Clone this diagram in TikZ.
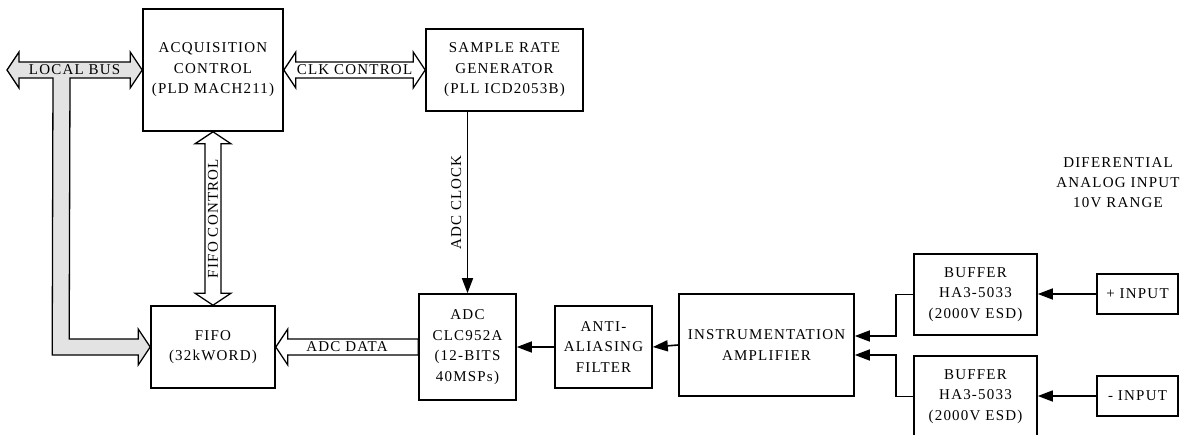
\documentclass[tikz,border=0pt]{standalone}
\usepackage{fontspec}
\setmainfont{Liberation Serif}[LetterSpace=8]
\usetikzlibrary{calc,arrows.meta}
\tikzset{
    BX/.style ={rectangle, draw, line width=1.6pt, align=center, inner sep=0pt, font=\fontsize{15}{20.5}\selectfont},
    LB/.style ={inner sep=0pt, font=\fontsize{15}{18}\selectfont},
    SG/.style ={line width=1.6pt, -{Triangle[length=15pt,width=11pt]}},
    BA1/.style ={draw, line width=1.3pt, fill=white, line join=miter},
    BA2/.style ={draw, line width=1.3pt, fill=gray!22, line join=miter}
}
\begin{document}
\begin{tikzpicture}[x=1pt, y=-1pt]
            \useasboundingbox (0,0) rectangle (1190,434);
            \node[BX, minimum width=140, minimum height=122] (acq) at (213,70) {ACQUISITION\\CONTROL\\(PLD MACH211)};
            \node[BX, minimum width=157, minimum height=82] (srg) at (504.5,70) {SAMPLE RATE\\GENERATOR\\(PLL ICD2053B)};
            \node[BX, minimum width=124, minimum height=82] (fifo) at (213,347) {FIFO\\(32kWORD)};
            \node[BX, minimum width=97, minimum height=106] (adc) at (467.5,347) {ADC\\CLC952A\\(12-BITS\\40MSPs)};
            \node[BX, minimum width=97, minimum height=82] (aaf) at (603.5,347) {ANTI-\\ALIASING\\FILTER};
            \node[BX, minimum width=175, minimum height=102] (amp) at (766.5,345) {INSTRUMENTATION\\AMPLIFIER};
            \node[BX, minimum width=123, minimum height=81] (bufp) at (975.5,294.5) {BUFFER\\HA3-5033\\(2000V ESD)};
            \node[BX, minimum width=123, minimum height=81] (bufn) at (975.5,396.5) {BUFFER\\HA3-5033\\(2000V ESD)};
            \node[BX, minimum width=81, minimum height=40] (inp) at (1137.5,294) {+ INPUT};
            \node[BX, minimum width=81, minimum height=40] (inn) at (1137.5,396) {- INPUT};
            \node[LB, align=center, font=\fontsize{15}{20}\selectfont] (diff) at (1118,183) {DIFERENTIAL\\ANALOG INPUT\\10V RANGE};
            % block arrows
            \draw[BA1] (acq.east) -- ++(12,-18) -- ++(0,10) -- ($(srg.west)+(-12,-8)$) -- ++(0,-10) -- (srg.west) -- ++(-12,18) -- ++(0,-10) -- ($(acq.east)+(12,8)$) -- ++(0,10) -- cycle;
            \node[LB] (clkl) at ($(acq.east)!0.5!(srg.west)$) {CLK CONTROL};
            \draw[BA1] (acq.south) -- ++(-18,12) -- ++(10,0) -- ($(fifo.north)+(-8,-12)$) -- ++(-10,0) -- (fifo.north) -- ++(18,-12) -- ++(-10,0) -- ($(acq.south)+(8,12)$) -- ++(10,0) -- cycle;
            \node[LB, rotate=90] (fcl) at ($(acq.south)!0.5!(fifo.north)$) {FIFO CONTROL};
            \draw[BA1] (fifo.east) -- ++(12,-18) -- ++(0,10) -- ($(adc.west)+(0,-8)$) -- ++(0,16) -- ($(fifo.east)+(12,8)$) -- ++(0,10) -- cycle;
            \node[LB] (adl) at ($(fifo.east)!0.5!(adc.west)$) {ADC DATA};
            \coordinate (busend) at (7,70);
            \draw[BA2] (busend) -- ++(12,-18) -- ++(0,10) -- ($(acq.west)+(-12,-8)$) -- ++(0,-10) -- (acq.west) -- ++(-12,18) -- ++(0,-10) -- ($(busend)+(63,8)$) -- ($(fifo.west)+(-81,-8)$) -- ++(69,0) -- ++(0,-10) -- (fifo.west) -- ++(-12,18) -- ++(0,-10) -- ($(fifo.west)+(-98,8)$) -- ($(busend)+(46,8)$) -- ($(busend)+(12,8)$) -- ++(0,10) -- cycle;
            \node[LB] (lbl) at ($(busend)!0.5!(acq.west)$) {LOCAL BUS};
            % signal lines
            \draw[SG] (srg.south -| adc.north) -- node[LB, rotate=90, anchor=south, inner ysep=5.5pt] (ckl) {ADC CLOCK} (adc.north);
            \draw[SG] (aaf.west) -- (adc.east);
            \draw[SG] (amp.west) -- (aaf.east);
            \draw[SG] (bufp.west) -- ++(-17,0) |- ($(amp.east)+(0,-9)$);
            \draw[SG] (bufn.west) -- ++(-17,0) |- ($(amp.east)+(0,10)$);
            \draw[SG] (inp.west) -- (inp.west -| bufp.east);
            \draw[SG] (inn.west) -- (inn.west -| bufn.east);
\end{tikzpicture}
\end{document}
